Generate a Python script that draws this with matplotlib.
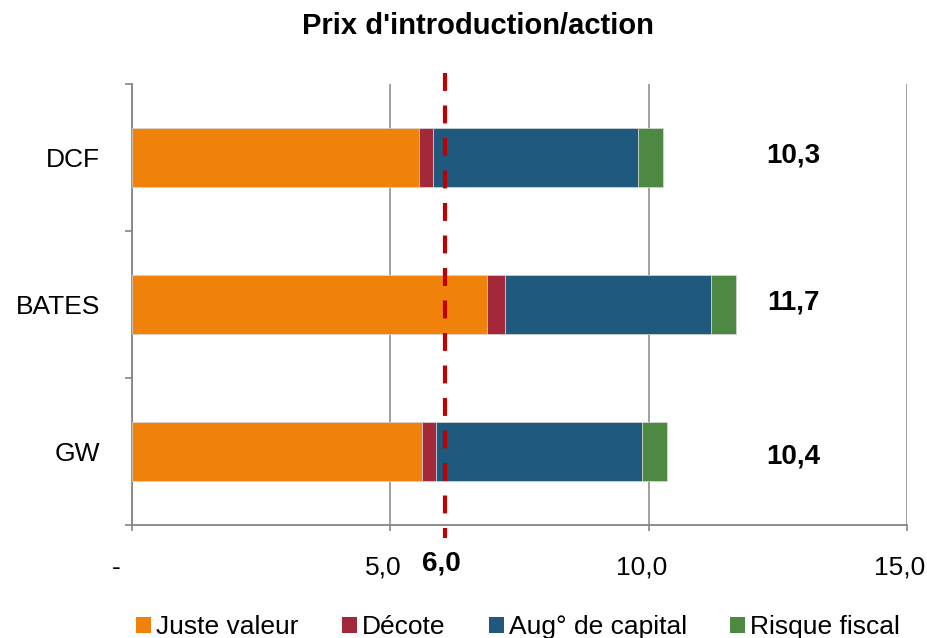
import matplotlib
matplotlib.use("Agg")
import matplotlib.pyplot as plt
import matplotlib.transforms as mtransforms
from matplotlib.patches import Patch

plt.rcParams['font.family'] = ['Liberation Sans', 'DejaVu Sans']

categories = ["DCF", "BATES", "GW"]
series_names = ["Juste valeur", "Décote", "Aug° de capital", "Risque fiscal"]
juste_valeur = [5.55, 6.88, 5.61]
decote = [0.27, 0.33, 0.27]
aug_capital = [3.98, 4.00, 4.00]
risque_fiscal = [0.48, 0.48, 0.48]
totals_labels = ["10,3", "11,7", "10,4"]
ref_value = 6.05
ref_label = "6,0"
xticks = [0, 5, 10, 15]
xtick_labels = ["-", "5,0", "10,0", "15,0"]
colors = ["#F0810A", "#A2283A", "#1F5A7E", "#4E8943"]

fig = plt.figure(figsize=(9.27, 6.38), dpi=100)
ax = fig.add_axes([0.1424, 0.1771, 0.9784 - 0.1424, 0.8683 - 0.1771])

ypos = [2, 1, 0]
left = [0.0, 0.0, 0.0]
for vals, col, name in zip([juste_valeur, decote, aug_capital, risque_fiscal], colors, series_names):
    ax.barh(ypos, vals, left=left, height=0.4, color=col, edgecolor="#d8d8d8",
            linewidth=0.5, label=name, zorder=3)
    left = [l + v for l, v in zip(left, vals)]

label_dy = [0.017, 0.017, -0.037]
for y, lab, dy in zip(ypos, totals_labels, label_dy):
    ax.text(12.8, y + dy, lab, ha="center", va="center", fontsize=20,
            fontweight="bold", zorder=5)

ax.set_xlim(0, 15)
ax.set_ylim(-0.5, 2.5)
ax.set_xticks(xticks)
ax.set_xticklabels(xtick_labels, fontsize=19)
ax.set_yticks(ypos)
ax.set_yticklabels(categories, fontsize=19)
ax.set_yticks([-0.5, 0.5, 1.5, 2.5], minor=True)
ax.tick_params(axis="y", which="major", length=0, pad=23)
ax.tick_params(axis="y", which="minor", length=5, color="#868686", width=1.2)
ax.tick_params(axis="x", which="major", length=4, color="#868686", width=1.2, pad=18)

for lab, dx in zip(ax.get_xticklabels(), [-16, -7, -7, -7]):
    lab.set_transform(lab.get_transform() +
                      mtransforms.ScaledTranslation(dx / 100, 0, fig.dpi_scale_trans))

ax.grid(axis="x", color="#9a9a9a", linewidth=1.3, zorder=0)
for s in ["top", "right"]:
    ax.spines[s].set_visible(False)
for s in ["left", "bottom"]:
    ax.spines[s].set_color("#868686")
    ax.spines[s].set_linewidth(1.3)

# reference dashed line
trans = mtransforms.blended_transform_factory(ax.transData, ax.transAxes)
ax.plot([ref_value, ref_value], [1.025, -0.03], transform=trans, color="#C00000",
        linewidth=3, linestyle=(0, (4.3, 3.5)), clip_on=False, zorder=6)
ax.text(ref_value - 0.07, -0.088, ref_label, transform=trans, ha="center", va="center",
        fontsize=20, fontweight="bold")

fig.suptitle("Prix d'introduction/action", x=0.516, y=0.959, fontsize=21,
             fontweight="bold", va="center")

handles = [Patch(facecolor=c, edgecolor="none") for c in colors]
fig.legend(handles, series_names, loc="center", bbox_to_anchor=(0.559, 0.017),
           ncol=4, frameon=False, fontsize=19, handlelength=0.57, handleheight=0.57,
           handletextpad=0.18, columnspacing=1.65, borderpad=0.1)

fig.savefig("out.png", dpi=100)
